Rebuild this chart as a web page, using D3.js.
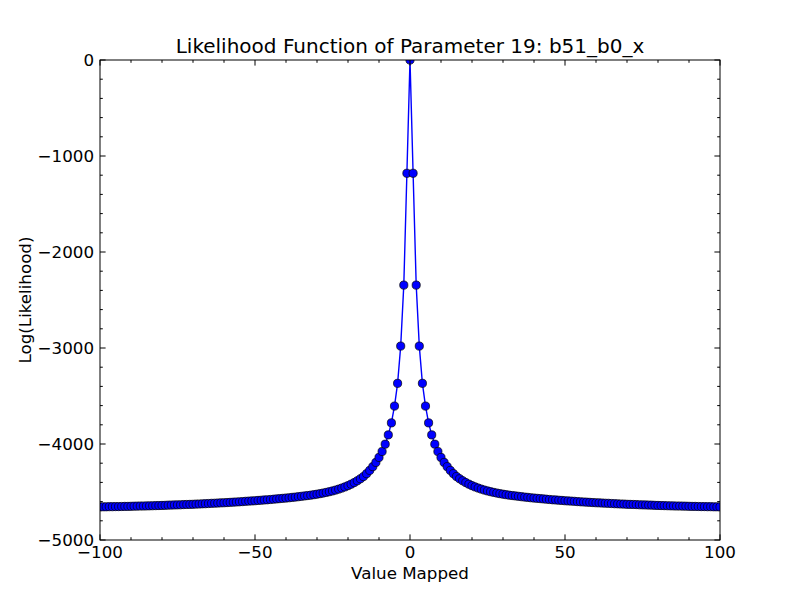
<!DOCTYPE html>
<html>
<head>
<meta charset="utf-8">
<script src="https://cdn.jsdelivr.net/npm/d3@7"></script>
<style>
  body { margin: 0; background: #fff; }
  svg { display: block; font-family: "DejaVu Sans", sans-serif; }
</style>
</head>
<body>
<svg id="chart"></svg>
<script>
// Parameter sweep: integer values -100 .. 100
const xValues = d3.range(-100, 101);

// Log(Likelihood), x = -100 .. -1
const leftValues = [
  -4655, -4654, -4654, -4653, -4653, -4652, -4652, -4651, -4650, -4650,
  -4649, -4648, -4647, -4646, -4646, -4645, -4644, -4643, -4642, -4641,
  -4640, -4639, -4637, -4636, -4635, -4634, -4633, -4631, -4630, -4629,
  -4628, -4626, -4625, -4623, -4622, -4620, -4618, -4617, -4615, -4613,
  -4612, -4610, -4608, -4606, -4604, -4602, -4600, -4597, -4595, -4593,
  -4591, -4588, -4586, -4583, -4581, -4578, -4575, -4572, -4569, -4566,
  -4563, -4560, -4556, -4553, -4549, -4545, -4541, -4537, -4533, -4528,
  -4523, -4517, -4511, -4504, -4497, -4489, -4480, -4470, -4459, -4447,
  -4434, -4419, -4402, -4383, -4362, -4339, -4309, -4275, -4236, -4192,
  -4140, -4078, -4002, -3905, -3780, -3605, -3368, -2980, -2345, -1180
];
// x = 0 .. 100
const rightValues = [
  0,
  -1180, -2345, -2980, -3368, -3605, -3780, -3905, -4002, -4078, -4140,
  -4192, -4236, -4275, -4309, -4339, -4362, -4383, -4402, -4419, -4434,
  -4447, -4459, -4470, -4480, -4489, -4497, -4504, -4511, -4517, -4523,
  -4528, -4533, -4537, -4541, -4545, -4549, -4553, -4556, -4560, -4563,
  -4566, -4569, -4572, -4575, -4578, -4581, -4583, -4586, -4588, -4591,
  -4593, -4595, -4597, -4600, -4602, -4604, -4606, -4608, -4610, -4612,
  -4613, -4615, -4617, -4618, -4620, -4622, -4623, -4625, -4626, -4628,
  -4629, -4630, -4631, -4633, -4634, -4635, -4636, -4637, -4639, -4640,
  -4641, -4642, -4643, -4644, -4645, -4646, -4646, -4647, -4648, -4649,
  -4650, -4650, -4651, -4652, -4652, -4653, -4653, -4654, -4654, -4655
];

const xTicks = [-100, -50, 0, 50, 100];
const yTicks = [-5000, -4000, -3000, -2000, -1000, 0];

const title = "Likelihood Function of Parameter 19: b51_b0_x";
const xLabel = "Value Mapped";
const yLabel = "Log(Likelihood)";

const logL = leftValues.concat(rightValues);
const data = xValues.map((x, i) => ({ x: x, y: logL[i] }));

const width = 800, height = 600;
const margin = { top: 60, right: 80, bottom: 60, left: 100 };
const plotW = width - margin.left - margin.right;
const plotH = height - margin.top - margin.bottom;

const svg = d3.select("#chart")
    .attr("width", width)
    .attr("height", height);

const g = svg.append("g")
    .attr("transform", "translate(" + margin.left + "," + margin.top + ")");

const x = d3.scaleLinear().domain([-100, 100]).range([0, plotW]);
const y = d3.scaleLinear().domain([-5000, 0]).range([plotH, 0]);

const fmt = d => (d < 0 ? "\u2212" + Math.abs(d) : String(d));

// clip so markers at the edges are cut by the frame
svg.append("defs").append("clipPath")
    .attr("id", "plot-clip")
    .append("rect")
    .attr("width", plotW)
    .attr("height", plotH);

const plot = g.append("g").attr("clip-path", "url(#plot-clip)");

// line
plot.append("path")
    .datum(data)
    .attr("fill", "none")
    .attr("stroke", "#0000ff")
    .attr("stroke-width", 1.4)
    .attr("d", d3.line().x(d => x(d.x)).y(d => y(d.y)));

// markers
plot.selectAll("circle")
    .data(data)
    .enter().append("circle")
    .attr("cx", d => x(d.x))
    .attr("cy", d => y(d.y))
    .attr("r", 4.1)
    .attr("fill", "#0000ff")
    .attr("stroke", "#000")
    .attr("stroke-width", 0.7);

// ticks, inward on all four sides (matplotlib classic look)
const majorLen = 5.6, minorLen = 2.8;
const xMinor = d3.range(-100, 101, 10).filter(v => xTicks.indexOf(v) < 0);
const yMinor = d3.range(-5000, 1, 200).filter(v => yTicks.indexOf(v) < 0);

function xTickMarks(vals, len) {
  g.selectAll(null).data(vals).enter().append("line")
      .attr("x1", d => x(d)).attr("x2", d => x(d))
      .attr("y1", plotH).attr("y2", plotH - len)
      .attr("stroke", "#000").attr("stroke-width", 1);
  g.selectAll(null).data(vals).enter().append("line")
      .attr("x1", d => x(d)).attr("x2", d => x(d))
      .attr("y1", 0).attr("y2", len)
      .attr("stroke", "#000").attr("stroke-width", 1);
}
function yTickMarks(vals, len) {
  g.selectAll(null).data(vals).enter().append("line")
      .attr("y1", d => y(d)).attr("y2", d => y(d))
      .attr("x1", 0).attr("x2", len)
      .attr("stroke", "#000").attr("stroke-width", 1);
  g.selectAll(null).data(vals).enter().append("line")
      .attr("y1", d => y(d)).attr("y2", d => y(d))
      .attr("x1", plotW).attr("x2", plotW - len)
      .attr("stroke", "#000").attr("stroke-width", 1);
}
xTickMarks(xTicks, majorLen);
xTickMarks(xMinor, minorLen);
yTickMarks(yTicks, majorLen);
yTickMarks(yMinor, minorLen);

// frame
g.append("rect")
    .attr("width", plotW)
    .attr("height", plotH)
    .attr("fill", "none")
    .attr("stroke", "#000")
    .attr("stroke-width", 1);

// tick labels
g.selectAll(".x-label").data(xTicks).enter().append("text")
    .attr("class", "x-label")
    .attr("x", d => x(d))
    .attr("y", plotH + 5)
    .attr("dy", "0.76em")
    .style("text-anchor", "middle")
    .style("font-size", "16.7px")
    .text(fmt);

g.selectAll(".y-label").data(yTicks).enter().append("text")
    .attr("class", "y-label")
    .attr("x", -6)
    .attr("y", d => y(d))
    .attr("dy", "0.35em")
    .style("text-anchor", "end")
    .style("font-size", "16.7px")
    .text(fmt);

// title and axis titles
svg.append("text")
    .attr("x", margin.left + plotW / 2)
    .attr("y", margin.top - 7)
    .style("text-anchor", "middle")
    .style("font-size", "20px")
    .text(title);

svg.append("text")
    .attr("x", margin.left + plotW / 2)
    .attr("y", height - 21)
    .style("text-anchor", "middle")
    .style("font-size", "16.7px")
    .text(xLabel);

svg.append("text")
    .attr("transform", "translate(" + 31 + "," + (margin.top + plotH / 2) + ") rotate(-90)")
    .style("text-anchor", "middle")
    .style("font-size", "16.7px")
    .text(yLabel);
</script>
</body>
</html>
